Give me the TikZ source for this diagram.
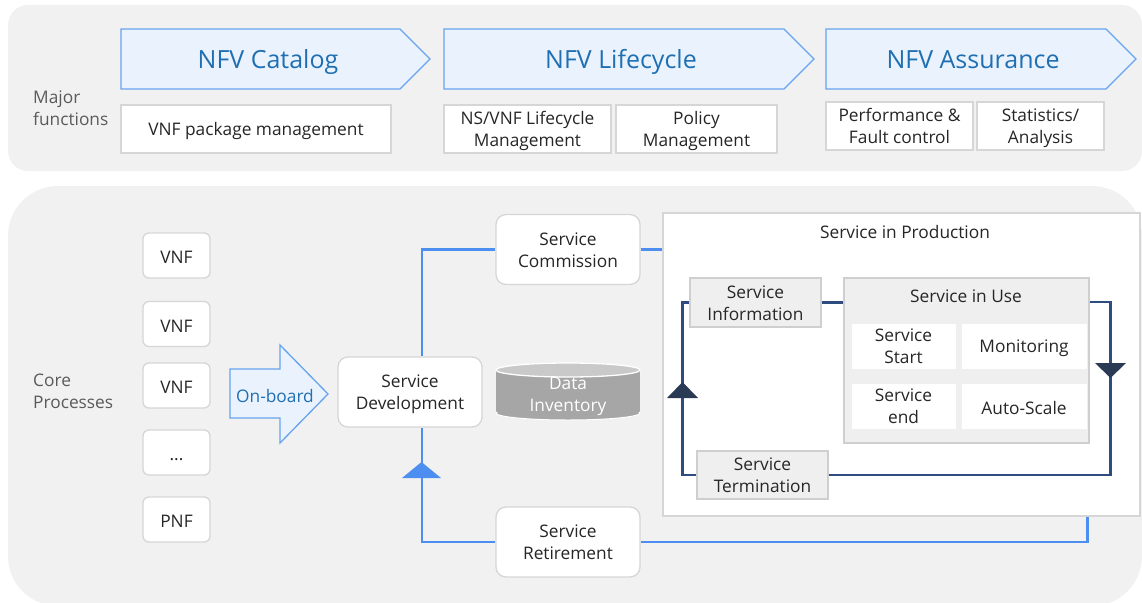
\documentclass[tikz,border=0pt]{standalone}
\usepackage{fontspec}
\setmainfont{Open Sans}
\definecolor{panel}{HTML}{F1F1F1}
\definecolor{boxline}{HTML}{D6D6D6}
\definecolor{gfill}{HTML}{EFEFEF}
\definecolor{gline}{HTML}{CFCFCF}
\definecolor{chevfill}{HTML}{EAF3FD}
\definecolor{chevline}{HTML}{68A4EE}
\definecolor{chevtext}{HTML}{1F6FB2}
\definecolor{flowblue}{HTML}{4D8FF0}
\definecolor{navy}{HTML}{2F4C80}
\definecolor{navytri}{HTML}{2A3A55}
\definecolor{textc}{HTML}{262626}
\definecolor{lblc}{HTML}{5A5A5A}
\definecolor{cylbody}{HTML}{A6A6A6}
\definecolor{cyltop}{HTML}{C9C9C9}
\newcommand\bodyf{\fontsize{17.3}{22}\selectfont}
\newcommand\titlef{\fontsize{25}{29}\selectfont}
\newcommand\pushone{\rule{0pt}{16.5pt}}
\newcommand\ml[2]{\raisebox{-2.2pt}[\height][\depth]{\begin{tabular}{@{}c@{}}#1\\#2\end{tabular}}}
\begin{document}
\begin{tikzpicture}[x=1pt,y=-1pt,
  boxtext/.style={inner sep=0pt, align=center, font=\bodyf, text=textc, execute at begin node=\pushone},
  wbox/.style={draw=boxline, fill=white, line width=1.3pt, boxtext},
  rbox/.style={wbox, rounded corners=8pt},
  gbox/.style={draw=gline, fill=gfill, line width=1.3pt, boxtext},
  ibox/.style={draw=gfill, fill=white, line width=1pt, boxtext},
  chev/.style={draw=chevline, fill=chevfill, line width=1.3pt, line join=miter},
  chevtxt/.style={font=\titlef, text=chevtext, inner sep=0pt},
  lbl/.style={font=\bodyf, text=lblc, align=left, inner sep=0pt, anchor=west},
  plain/.style={font=\bodyf, text=textc, inner sep=0pt, align=center},
  bflow/.style={draw=flowblue, line width=2.6pt},
  nflow/.style={draw=navy, line width=2.6pt}
]
\useasboundingbox (0,0) rectangle (1142,602);
\fill[white] (0,0) rectangle (1142,602);
% panels
\begin{scope}
\clip (0,0) rectangle (1142,602);
\fill[panel, rounded corners=20pt] (8,5) rectangle (1142,171);
\fill[panel, rounded corners=50pt] (8,186) rectangle (1142,606);
\end{scope}
% labels
\node[lbl] (mf) at (33,108) {Major\\functions};
\node[lbl] (cp) at (33,391) {Core\\Processes};
% chevrons
\draw[chev] (121,29) -- (400,29) -- (430,59) -- (400,89) -- (121,89) -- cycle;
\node[chevtxt] (cat) at (268,62) {NFV Catalog};
\draw[chev] (444,29) -- (784,29) -- (814,59) -- (784,89) -- (444,89) -- cycle;
\node[chevtxt] (lcy) at (621,62) {NFV Lifecycle};
\draw[chev] (826,29) -- (1106,29) -- (1136,59) -- (1106,89) -- (826,89) -- cycle;
\node[chevtxt] (ass) at (973,60) {NFV Assurance};
% function boxes
\node[wbox, minimum width=270pt, minimum height=48pt] (vpm) at (256,129) {VNF package management};
\node[wbox, minimum width=167pt, minimum height=48pt] (lcm) at (527.5,129) {\ml{NS/VNF Lifecycle}{Management}};
\node[wbox, minimum width=161pt, minimum height=48pt] (pm) at (696.5,129) {\ml{Policy}{Management}};
\node[wbox, minimum width=147pt, minimum height=48pt] (pf) at (899.5,126) {\ml{Performance \&}{Fault control}};
\node[wbox, minimum width=127pt, minimum height=48pt] (sa) at (1040.5,126) {\ml{Statistics/}{Analysis}};
% VNF column
\tikzset{vbox/.style={rbox, rounded corners=6pt, minimum width=67pt, minimum height=45pt}}
\node[vbox] (v1) at (176.5,255.5) {VNF};
\node[vbox] (v2) at (176.5,324) {VNF};
\node[vbox] (v3) at (176.5,385.5) {VNF};
\node[vbox] (v4) at (176.5,452.5) {...};
\node[vbox] (v5) at (176.5,519.5) {PNF};
% on-board arrow
\draw[chev] (230,369) -- (280,369) -- (280,345) -- (328,394) -- (280,443) -- (280,418) -- (230,418) -- cycle;
\node[font=\bodyf, text=chevtext, inner sep=0pt] (ob) at (275,396) {On-board};
% process boxes
\tikzset{pbox/.style={rbox, rounded corners=10pt, minimum width=144pt, minimum height=70pt}}
\node[pbox] (sd) at (410,392) {\ml{Service}{Development}};
\node[pbox] (sc) at (568,249.5) {\ml{Service}{Commission}};
\node[pbox] (sr) at (568,542) {\ml{Service}{Retirement}};
% data inventory cylinder
\fill[cylbody] (496,370) rectangle (640,413);
\fill[cylbody, draw=white, line width=1pt] (568,413) ellipse[x radius=72pt, y radius=7pt];
\fill[cylbody] (497,370) rectangle (639,412);
\fill[cyltop, draw=white, line width=1.3pt] (568,370) ellipse[x radius=72pt, y radius=7pt];
\node[plain, text=white] (di) at (568,396) {Data\\Inventory};
% service in production
\node[wbox, minimum width=477pt, minimum height=303pt] (sip) at (901.5,364.5) {};
\node[plain] (siptitle) at (905,232) {Service in Production};
\node[gbox, minimum width=131pt, minimum height=49pt] (si) at (755.5,302.5) {\ml{Service}{Information}};
\node[gbox, minimum width=245pt, minimum height=165pt] (siu) at (966.5,360.5) {};
\node[plain] (siutitle) at (966,296) {Service in Use};
\node[ibox, minimum width=105pt, minimum height=46pt] (ss) at (903.5,346) {\ml{Service}{Start}};
\node[ibox, minimum width=126pt, minimum height=46pt] (mon) at (1024,346) {Monitoring};
\node[ibox, minimum width=105pt, minimum height=46pt] (se) at (903.5,406) {\ml{Service}{end}};
\node[ibox, minimum width=126pt, minimum height=46pt] (as) at (1024,406) {Auto-Scale};
\node[gbox, minimum width=131pt, minimum height=48pt] (st) at (762.5,475) {\ml{Service}{Termination}};
% blue flow
\draw[bflow] ([xshift=12pt]sd.north) |- (sc.west);
\draw[bflow] (sc.east) -- (sip.west |- sc.east);
\draw[bflow] (sr.west) -| ([xshift=12pt]sd.south);
\draw[bflow] (sr.east) -| ([xshift=-53pt]sip.south east);
\fill[flowblue] (402,478) -- (441,478) -- (421.5,462) -- cycle;
% navy loop
\draw[nflow] (si.east) -- (siu.west |- si.east);
\draw[nflow] ([yshift=-24.5pt]siu.north east) -- ++(21,0) |- (st.east);
\draw[nflow] (si.west) -- ++(-7,0) |- (st.west);
\fill[navytri] (667,398) -- (698,398) -- (682.5,382) -- cycle;
\fill[navytri] (1095,363) -- (1126,363) -- (1110.5,378) -- cycle;
\end{tikzpicture}
\end{document}
